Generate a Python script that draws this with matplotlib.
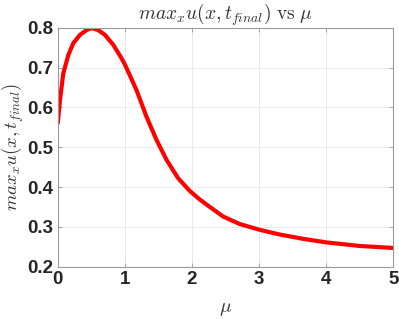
import matplotlib
matplotlib.use("Agg")
import matplotlib.pyplot as plt

mu = [0.0, 0.034, 0.083, 0.158, 0.232, 0.332, 0.43, 0.506, 0.604, 0.704, 0.828, 0.952,
      1.0, 1.175, 1.324, 1.473, 1.622, 1.795, 1.969, 2.107, 2.217, 2.464, 2.713, 3.0,
      3.3, 3.655, 4.0, 4.5, 5.0]
umax = [0.558, 0.618, 0.685, 0.731, 0.761, 0.782, 0.794, 0.799, 0.794, 0.782, 0.757, 0.723,
        0.708, 0.643, 0.576, 0.518, 0.468, 0.422, 0.390, 0.370, 0.356, 0.326, 0.307, 0.293,
        0.281, 0.270, 0.261, 0.252, 0.247]
xticks = [0, 1, 2, 3, 4, 5]
yticks = [0.2, 0.3, 0.4, 0.5, 0.6, 0.7, 0.8]

plt.rcParams['mathtext.fontset'] = 'cm'

fig = plt.figure(figsize=(3.99, 3.19), dpi=100)
ax = fig.add_axes([0.1446, 0.164, 0.9857 - 0.1446, 0.9132 - 0.164])

ax.plot(mu, umax, color='#ff0000', linewidth=3.0, solid_joinstyle='round',
        solid_capstyle='butt')
ax.set_xlim(0, 5)
ax.set_ylim(0.2, 0.8)
ax.set_xticks(xticks)
ax.set_yticks(yticks)
ax.set_xticklabels([str(t) for t in xticks])
ax.set_yticklabels([f"{t:.1f}" for t in yticks])
for lab in ax.get_xticklabels() + ax.get_yticklabels():
    lab.set_fontfamily('Liberation Sans')
    lab.set_fontweight('bold')
    lab.set_fontsize(13.5)
    lab.set_color('#262626')

ax.grid(True, color='#e6e6e6', linewidth=0.6)
ax.set_axisbelow(True)
for s in ax.spines.values():
    s.set_color('#9a9a9a')
    s.set_linewidth(0.8)
ax.tick_params(direction='in', length=3, width=0.6, color='#9a9a9a',
               top=True, right=True, pad=3)

ax.set_title(r'$max_x u(x,t_{final})\ \mathrm{vs}\ \mu$', fontsize=14, color='#333333', pad=6)
ax.set_xlabel(r'$\mu$', fontsize=14, color='#333333', labelpad=8)
ax.set_ylabel(r'$max_x u(x,t_{final})$', fontsize=13.5, color='#333333')
ax.yaxis.set_label_coords(-0.094, 0.5)

fig.savefig('out.png', dpi=100)
